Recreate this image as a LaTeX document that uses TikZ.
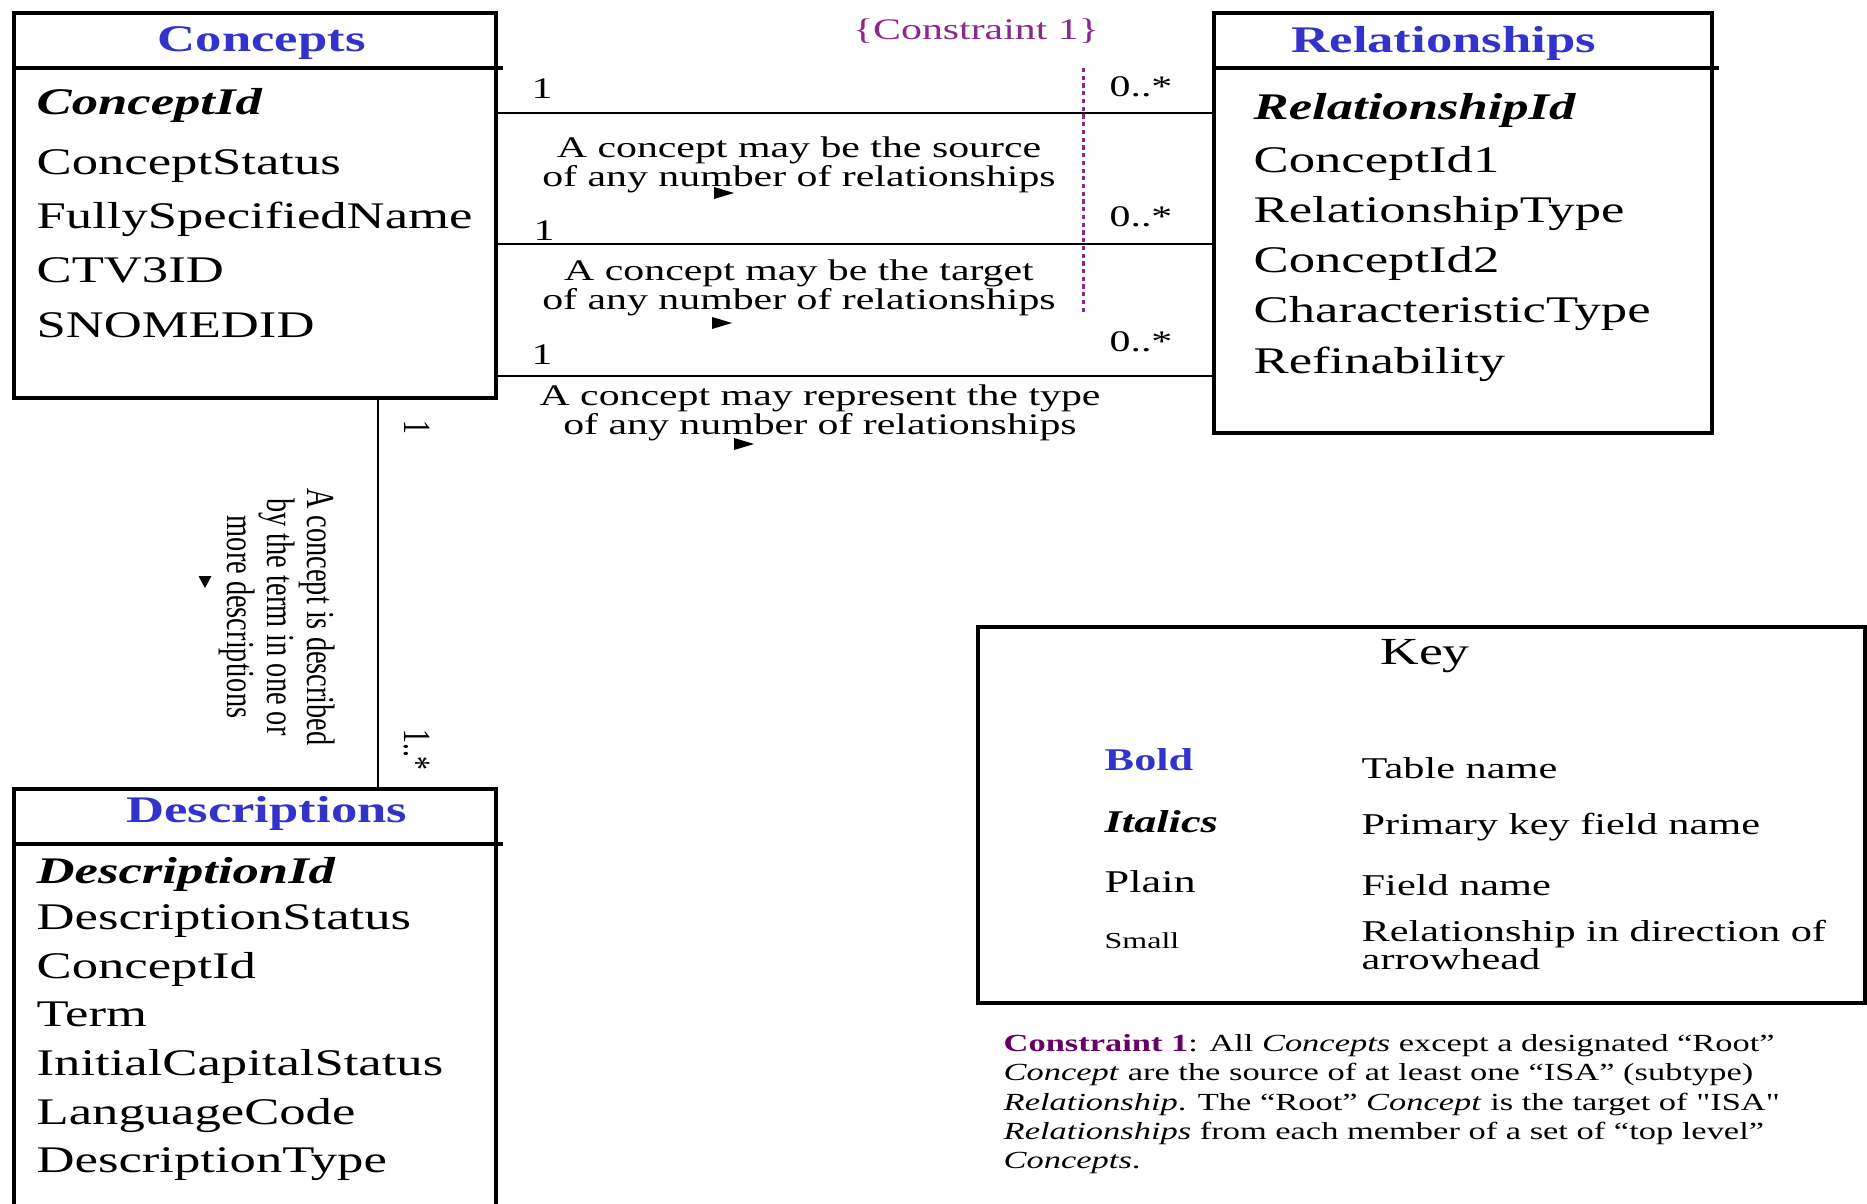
\documentclass[tikz,border=0pt]{standalone}
\usepackage{fontspec}
\setmainfont{Liberation Serif}[FakeStretch=1.4]
\newfontfamily\vertfont{Liberation Serif}[FakeStretch=0.714]
\usetikzlibrary{positioning}
\definecolor{tblblue}{RGB}{51,51,204}
\definecolor{cnstpurple}{RGB}{140,40,140}
\definecolor{cnstdark}{RGB}{102,0,102}

\begin{document}
\begin{tikzpicture}[
    tbl box/.style={draw, line width=1pt, minimum width=4.82cm, anchor=north west, inner sep=0pt},
    tbl title/.style={inner sep=0pt, font=\fontsize{10.7}{12}\selectfont\bfseries, text=tblblue},
    field/.style={anchor=base west, inner sep=0pt, font=\fontsize{10.7}{12}\selectfont},
    pkey/.style={field, font=\fontsize{10.7}{12}\selectfont\bfseries\itshape},
    link/.style={line width=0.8pt},
    mult/.style={inner sep=0pt, font=\fontsize{8.5}{9}\selectfont},
    vmult/.style={inner sep=0pt, rotate=-90, font=\vertfont\fontsize{11}{11}\selectfont},
    rel label/.style={inner sep=0pt, align=center, font=\fontsize{8.5}{8.15}\selectfont},
    key item/.style={anchor=west, inner sep=0pt, align=left, font=\fontsize{8.6}{8}\selectfont}
]
    \useasboundingbox (0,0) rectangle (18.67,-12.04);

    % Concepts table
    \node[tbl box, minimum height=3.855cm] (concepts) at (0.12,-0.11) {};
    \draw[line width=1pt] ([yshift=-5.7mm]concepts.north west) -- ([xshift=0.5mm, yshift=-5.7mm]concepts.north east);
    \node[tbl title] (concepts-title) at ([xshift=0.7mm, yshift=-3.25mm]concepts.north) {Concepts};
    \node[pkey] (concepts-key) at ([shift={(2.4mm,-10.4mm)}]concepts.north west) {ConceptId};
    \foreach \f [count=\i] in {ConceptStatus, FullySpecifiedName, CTV3ID, SNOMEDID}
        \node[field] (concepts-f\i) at ([shift={(2.4mm,{-11mm-\i*5.4mm})}]concepts.north west) {\f};

    % Relationships table
    \node[tbl box, minimum width=4.98cm, minimum height=4.20cm] (rels) at (12.12,-0.11) {};
    \draw[line width=1pt] ([yshift=-5.7mm]rels.north west) -- ([xshift=0.5mm, yshift=-5.7mm]rels.north east);
    \node[tbl title] (rels-title) at ([xshift=-1.9mm, yshift=-3.25mm]rels.north) {Relationships};
    \node[pkey] (rels-key) at ([shift={(4.1mm,-10.9mm)}]rels.north west) {RelationshipId};
    \foreach \f [count=\i] in {ConceptId1, RelationshipType, ConceptId2, CharacteristicType, Refinability}
        \node[field] (rels-f\i) at ([shift={(4.1mm,{-11.1mm-\i*5.02mm})}]rels.north west) {\f};

    % Descriptions table (runs off the bottom)
    \node[tbl box, minimum height=4.22cm] (descs) at (0.12,-7.87) {};
    \draw[line width=1pt] ([yshift=-5.7mm]descs.north west) -- ([xshift=0.5mm, yshift=-5.7mm]descs.north east);
    \node[tbl title] (descs-title) at ([xshift=1.2mm, yshift=-2.65mm]descs.north) {Descriptions};
    \node[pkey] (descs-key) at ([shift={(2.4mm,-9.6mm)}]descs.north west) {DescriptionId};
    \foreach \f [count=\i] in {DescriptionStatus, ConceptId, Term, InitialCapitalStatus, LanguageCode, DescriptionType}
        \node[field] (descs-f\i) at ([shift={(2.4mm,{-9.4mm-\i*4.86mm})}]descs.north west) {\f};

    % Links Concepts -> Relationships
    \coordinate (lnksrc) at (0,-1.13);
    \coordinate (lnktgt) at (0,-2.44);
    \coordinate (lnktype) at (0,-3.76);
    \draw[link] (lnksrc -| concepts.east) -- (lnksrc -| rels.west);
    \draw[link] (lnktgt -| concepts.east) -- (lnktgt -| rels.west);
    \draw[link] (lnktype -| concepts.east) -- (lnktype -| rels.west);

    \node[mult] (src-one) at (5.42,-0.89) {1};
    \node[mult] (src-many) at (11.41,-0.87) {0..*};
    \node[mult] (tgt-one) at (5.44,-2.31) {1};
    \node[mult] (tgt-many) at (11.41,-2.17) {0..*};
    \node[mult] (type-one) at (5.42,-3.55) {1};
    \node[mult] (type-many) at (11.41,-3.42) {0..*};

    \node[rel label] (src-lbl) at (7.99,-1.65) {A concept may be the source\\of any number of relationships};
    \node[rel label] (tgt-lbl) at (7.99,-2.88) {A concept may be the target\\of any number of relationships};
    \node[rel label] (type-lbl) at (8.20,-4.13) {A concept may represent the type\\of any number of relationships};
    \foreach \x/\y in {7.24/-1.93, 7.22/-3.23, 7.44/-4.44}
        \fill (\x,\y) ++(-0.1,0.06) -- ++(0.2,-0.06) -- ++(-0.2,-0.06) -- cycle;

    % Constraint 1 marker
    \node[mult, text=cnstpurple] (cnst) at (9.76,-0.31) {\{Constraint 1\}};
    \coordinate (cnsttop) at (10.835,-0.68);
    \draw[cnstpurple, line width=0.6pt, dash pattern=on 1.2pt off 1pt] (cnsttop) -- ++(0,-2.44);

    % Link Concepts -> Descriptions
    \coordinate (lnkdesc) at (3.78,0);
    \draw[link] (lnkdesc |- concepts.south) -- (lnkdesc |- descs.north);
    \node[vmult] (desc-one) at (4.17,-4.27) {1};
    \node[vmult] (desc-many) at (4.17,-7.50) {1..*};
    \node[inner sep=0pt, rotate=-90, align=center, font=\vertfont\fontsize{11.3}{11.4}\selectfont] (desc-lbl) at (2.77,-6.17)
        {A concept is described\\by the term in one or\\more descriptions};
    \fill (2.05,-5.82) ++(-0.065,0.06) -- ++(0.13,0) -- ++(-0.065,-0.12) -- cycle;

    % Key
    \node[draw, line width=1pt, minimum width=8.87cm, minimum height=3.76cm, anchor=north west, inner sep=0pt] (keybox) at (9.76,-6.25) {};
    \node[inner sep=0pt, font=\fontsize{10.9}{12}\selectfont] (keytitle) at (14.25,-6.56) {Key};
    \node[key item, font=\fontsize{9}{10}\selectfont\bfseries, text=tblblue] (kbold) at (11.04,-7.60) {Bold};
    \node[key item] (kbold-txt) at (13.61,-7.68) {Table name};
    \node[key item, font=\fontsize{9}{10}\selectfont\bfseries\itshape] (kital) at (11.04,-8.22) {Italics};
    \node[key item] (kital-txt) at (13.61,-8.27) {Primary key field name};
    \node[key item, font=\fontsize{9}{10}\selectfont] (kplain) at (11.04,-8.82) {Plain};
    \node[key item] (kplain-txt) at (13.61,-8.85) {Field name};
    \node[key item, font=\fontsize{6.5}{7}\selectfont] (ksmall) at (11.04,-9.41) {Small};
    \node[key item] (ksmall-txt) at (13.61,-9.45) {Relationship in direction of\\arrowhead};

    % Constraint note
    \node[anchor=north west, inner sep=0pt, align=left, font=\fontsize{7}{8.3}\selectfont] (cnstnote) at (10.03,-10.34)
        {\textcolor{cnstdark}{\textbf{Constraint 1}}: All \textit{Concepts} except a designated “Root”\\
         \textit{Concept} are the source of at least one “ISA” (subtype)\\
         \textit{Relationship}. The “Root” \textit{Concept} is the target of {\addfontfeatures{Ligatures=TeXOff}"ISA"}\\
         \textit{Relationships} from each member of a set of “top level”\\
         \textit{Concepts}.};
\end{tikzpicture}
\end{document}
